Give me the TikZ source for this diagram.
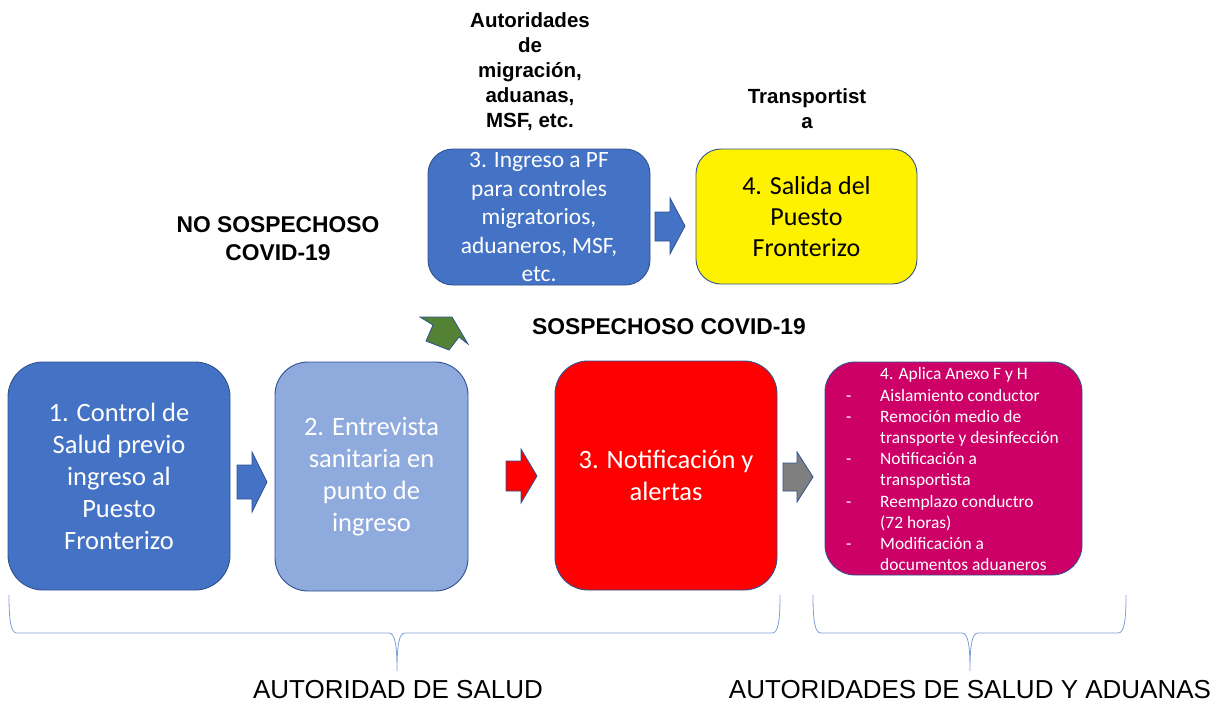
\documentclass[tikz,border=0pt]{standalone}
\usepackage{fontspec}
\setmainfont{Liberation Sans}
\newfontfamily\carlito{Carlito}
\definecolor{dblue}{HTML}{4472C4}
\definecolor{lblue}{HTML}{8FAADC}
\definecolor{edgeblue}{HTML}{2F528F}
\definecolor{magbox}{RGB}{204,0,102}
\definecolor{garrow}{HTML}{548235}
\definecolor{grayarr}{HTML}{7F7F7F}
\definecolor{bracecol}{HTML}{7F9FD8}
\tikzset{
  box/.style={draw=edgeblue, line width=0.9pt, align=center, inner sep=0pt},
  bigtxt/.style={font=\carlito\fontsize{26.5}{32}\selectfont, text=white},
  barrow/.style={draw=edgeblue, line width=0.8pt, line join=miter},
  brace/.style={draw=bracecol, line width=0.8pt},
  boldlbl/.style={font=\bfseries\fontsize{20.5}{25}\selectfont, align=center, inner sep=0pt},
  biglbl/.style={font=\bfseries\fontsize{22.8}{28}\selectfont, align=center, inner sep=0pt},
  authlbl/.style={font=\fontsize{26}{30}\selectfont, inner sep=0pt}
}
\begin{document}
\begin{tikzpicture}[x=1pt,y=-1pt]
\useasboundingbox (0,0) rectangle (1217,702);
% main row boxes
\node[box, bigtxt, fill=dblue, rounded corners=35pt, minimum width=222pt, minimum height=228pt] (b1) at (119,476)
  {1. Control de\\Salud previo\\ingreso al\\Puesto\\Fronterizo};
\node[box, bigtxt, fill=lblue, rounded corners=33pt, minimum width=193pt, minimum height=229pt] (b2) at (371.5,476.5)
  {2. Entrevista\\sanitaria en\\punto de\\ingreso};
\node[box, bigtxt, fill=red, rounded corners=33pt, minimum width=222pt, minimum height=229pt] (b3) at (666,475.5)
  {3. Notificación y\\alertas};
\node[box, fill=magbox, rounded corners=30pt, minimum width=257pt, minimum height=213pt] (b4) at (953.5,468.5) {};
\node[anchor=west, inner sep=0pt, text=white, font=\carlito\fontsize{17.4}{21.2}\selectfont] (b4txt) at (846,471)
  {\begin{tabular}{@{}p{34pt}@{}l@{}}
   & 4. Aplica Anexo F y H\\
   - & Aislamiento conductor\\
   - & Remoción medio de\\
     & transporte y desinfección\\
   - & Notificación a\\
     & transportista\\
   - & Reemplazo conductro\\
     & (72 horas)\\
   - & Modificación a\\
     & documentos aduaneros
   \end{tabular}};
% top boxes
\node[box, text=white, font=\carlito\fontsize{23.4}{28.5}\selectfont, fill=dblue, rounded corners=25pt, minimum width=222pt, minimum height=136pt] (t3) at (539,217)
  {3. Ingreso a PF\\para controles\\migratorios,\\aduaneros, MSF,\\etc.};
\node[box, text=black, font=\carlito\fontsize{26}{31}\selectfont, fill=yellow, rounded corners=25pt, minimum width=221pt, minimum height=135pt] (t4) at (806.5,216.5)
  {4. Salida del\\Puesto\\Fronterizo};
% block arrows
\path[barrow, fill=dblue] (237,465)--(252,465)--(252,452)--(267,482)--(252,512)--(252,499)--(237,499)--cycle;
\path[barrow, fill=red] (506,461)--(521,461)--(521,449)--(537,476)--(521,503)--(521,491)--(506,491)--cycle;
\path[barrow, fill=grayarr] (783,463)--(797,463)--(797,452)--(813,477)--(797,502)--(797,491)--(783,491)--cycle;
\path[barrow, fill=dblue] (655,212)--(670,212)--(670,198)--(685,226)--(670,254)--(670,241)--(655,241)--cycle;
\path[barrow, fill=garrow] (420,317)--(452,317)--(468,344)--(459,337)--(449,350)--(426,341)--(433,325)--cycle;
% labels
\node[boldlbl] (lauth) at (530,72) {Autoridades\\de\\migración,\\aduanas,\\MSF, etc.};
\node[boldlbl] (ltrans) at (807,109) {Transportist\\a};
\node[biglbl] (lno) at (278,239) {NO SOSPECHOSO\\COVID-19};
\node[biglbl] (lsos) at (669,327) {SOSPECHOSO COVID-19};
% braces
\path[brace] (9,595) .. controls (9,622) and (11,633) .. (17,633) -- (389,633)
  .. controls (395,633) and (397,645) .. (397,671)
  .. controls (397,645) and (399,633) .. (405,633) -- (772,633)
  .. controls (778,633) and (780,622) .. (780,595);
\path[brace] (813,595) .. controls (813,622) and (815,633) .. (821,633) -- (962,633)
  .. controls (968,633) and (970,645) .. (970,671)
  .. controls (970,645) and (972,633) .. (978,633) -- (1118,633)
  .. controls (1124,633) and (1126,622) .. (1126,595);
\node[authlbl] (la1) at (398,690) {AUTORIDAD DE SALUD};
\node[authlbl] (la2) at (970,690) {AUTORIDADES DE SALUD Y ADUANAS};
\end{tikzpicture}
\end{document}
